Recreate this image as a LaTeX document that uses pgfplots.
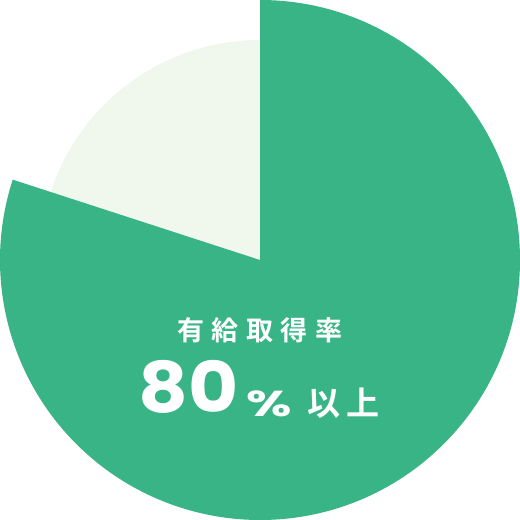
\documentclass[border=0pt]{standalone}
\usepackage{pgfplots}
\usepackage{pgfplotstable}
\pgfplotsset{compat=1.18}
\usepackage{fontspec}
\newfontfamily\cjk{Noto Sans CJK JP}[BoldFont={Noto Sans CJK JP Bold}]
\newfontfamily\num{Poppins}[BoldFont={Poppins Bold}]

\definecolor{paid}{HTML}{38B487}
\definecolor{rest}{HTML}{F0F7EC}

% share in percent, radius in px
\pgfplotstableread{
share radius
80 260
20 220
}\slices

\pgfplotstablegetelem{0}{share}\of\slices \let\shareA\pgfplotsretval
\pgfplotstablegetelem{0}{radius}\of\slices \let\radA\pgfplotsretval
\pgfplotstablegetelem{1}{radius}\of\slices \let\radB\pgfplotsretval
\pgfmathsetmacro\endA{90-3.6*\shareA}

\begin{document}
\begin{tikzpicture}
\begin{axis}[
    name=ax,
    x=1pt, y=1pt,
    xmin=-260, xmax=260,
    ymin=-260, ymax=260,
    hide axis,
    clip=false,
  ]
  % remaining share, smaller radius
  \fill[rest] (axis cs:0,0) -- (axis cs:0,\radB)
    arc[start angle=90, end angle=\endA+360, radius=\radB pt] -- cycle;
  % paid leave share
  \fill[paid] (axis cs:0,0) -- (axis cs:0,\radA)
    arc[start angle=90, end angle=\endA, radius=\radA pt] -- cycle;

  \node[white, anchor=base, inner sep=0pt] at (axis cs:0,-81)
    {\cjk\bfseries\fontsize{27}{27}\selectfont 有\hspace{7.5pt}給\hspace{7.5pt}取\hspace{7.5pt}得\hspace{7.5pt}率};
  \node[white, anchor=base west, inner sep=0pt] at (axis cs:-122,-153)
    {\scalebox{1.1}[1]{\num\bfseries\fontsize{70}{70}\selectfont 80}};
  \node[white, anchor=base west, inner sep=0pt] at (axis cs:-14,-157)
    {\scalebox{1.45}[1]{\num\bfseries\fontsize{36}{36}\selectfont\%}};
  \node[white, anchor=base west, inner sep=0pt] at (axis cs:47,-156)
    {\cjk\bfseries\fontsize{33}{33}\selectfont 以\hspace{6pt}上};
\end{axis}
\pgfresetboundingbox
\path[use as bounding box] (ax.south west) rectangle (ax.north east);
\end{tikzpicture}
\end{document}
